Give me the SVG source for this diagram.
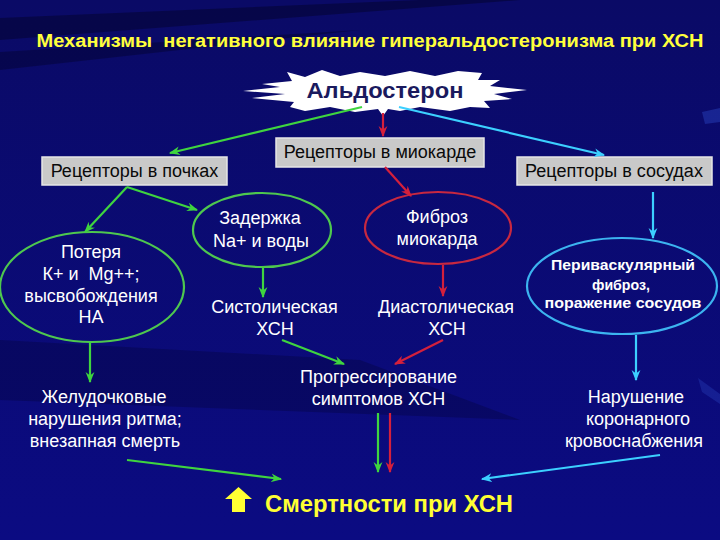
<svg xmlns="http://www.w3.org/2000/svg" width="720" height="540" viewBox="0 0 720 540">
<defs>
<style>
.t{font-family:"Liberation Sans",Arial,sans-serif;fill:#ffffff;font-size:18px;text-anchor:middle}
.p{font-family:"Liberation Sans",Arial,sans-serif;fill:#ffffff;font-size:14px;font-weight:bold;text-anchor:middle}
.b{font-family:"Liberation Sans",Arial,sans-serif;fill:#0a0a0a;font-size:18px;text-anchor:middle}
.pre{white-space:pre}
.box{fill:#c9c9c9;stroke:#e6e6e6;stroke-width:1.5}
.g{stroke:#3fd43f;stroke-width:2.2;fill:none}
.r{stroke:#d4203c;stroke-width:2.2;fill:none}
.c{stroke:#3cd0ff;stroke-width:2.2;fill:none}
.eg{fill:none;stroke:#4ec84e;stroke-width:2.2}
.er{fill:none;stroke:#c82840;stroke-width:2.2}
.ec{fill:none;stroke:#3cb4f0;stroke-width:2.2}
</style>
<linearGradient id="bg" x1="0" y1="0" x2="0" y2="1">
<stop offset="0" stop-color="#0a0a66"/>
<stop offset="1" stop-color="#0b0b82"/>
</linearGradient>
<marker id="ag" viewBox="0 0 10 10" refX="9" refY="5" markerWidth="5" markerHeight="5" orient="auto" markerUnits="strokeWidth"><path d="M0,1 L10,5 L0,9 L3,5 Z" fill="#3fd43f"/></marker>
<marker id="ar" viewBox="0 0 10 10" refX="9" refY="5" markerWidth="5" markerHeight="5" orient="auto" markerUnits="strokeWidth"><path d="M0,1 L10,5 L0,9 L3,5 Z" fill="#d4203c"/></marker>
<marker id="ac" viewBox="0 0 10 10" refX="9" refY="5" markerWidth="5" markerHeight="5" orient="auto" markerUnits="strokeWidth"><path d="M0,1 L10,5 L0,9 L3,5 Z" fill="#3cd0ff"/></marker>
</defs>
<g id="background">
<rect width="720" height="540" fill="url(#bg)"/>
<path d="M0,18 L420,0 L520,0 L0,40 Z" fill="#000010" opacity="0.35"/>
<path d="M0,52 L360,30 L0,70 Z" fill="#000010" opacity="0.3"/>
<path d="M0,340 L360,360 L520,420 L0,400 Z" fill="#000020" opacity="0.25"/>
<path d="M702,112 L720,108 L720,122 L705,124 Z" fill="#2a44c0" opacity="0.45"/>
<path d="M698,378 L720,394 L720,404 L702,392 Z" fill="#2a44c0" opacity="0.35"/>
</g>
<g id="title">
<text class="pre" x="370" y="47" font-family="'Liberation Sans',Arial,sans-serif" font-size="18" font-weight="bold" fill="#ffff3c" text-anchor="middle" textLength="667" lengthAdjust="spacingAndGlyphs">Механизмы  негативного влияние гиперальдостеронизма при ХСН</text>
</g>
<g id="aldosterone">
<path d="M287,72 L305,77 L322,70 L340,76 L360,72 L385,76 L410,71 L435,76 L458,71 L482,73 L478,80 L500,80 L490,86 L527,90 L494,94 L512,99 L484,101 L490,108 L470,107 L450,111 L420,107 L400,111 L388,109 L383,116 L378,109 L355,112 L330,107 L305,111 L290,107 L294,102 L252,98 L285,94 L243,91 L280,87 L262,84 L292,81 Z" fill="#ffffff"/>
<text x="385" y="98" font-family="'Liberation Sans',Arial,sans-serif" font-size="22" font-weight="bold" fill="#1a1a5e" text-anchor="middle" textLength="157" lengthAdjust="spacingAndGlyphs">Альдостерон</text>
</g>
<g id="rec-kidney">
<rect class="box" x="42" y="157" width="185" height="28"/>
<text class="b" x="134.5" y="177">Рецепторы в почках</text>
</g>
<g id="rec-myocard">
<rect class="box" x="276" y="138" width="208" height="29"/>
<text class="b" x="380" y="158">Рецепторы в миокарде</text>
</g>
<g id="rec-vessels">
<rect class="box" x="517" y="157" width="195" height="28"/>
<text class="b" x="614" y="177">Рецепторы в сосудах</text>
</g>
<g id="loss">
<ellipse class="eg" cx="92" cy="287" rx="92" ry="55"/>
<text class="t" x="91" y="258">Потеря</text>
<text class="t pre" x="91" y="280">К+ и  Mg++;</text>
<text class="t" x="91" y="302">высвобождения</text>
<text class="t" x="91" y="323">НА</text>
</g>
<g id="retention">
<ellipse class="eg" cx="262" cy="230" rx="69" ry="37"/>
<text class="t" x="260" y="224">Задержка</text>
<text class="t" x="261" y="247">Na+ и воды</text>
</g>
<g id="fibrosis">
<ellipse class="er" cx="438" cy="228" rx="73" ry="36"/>
<text class="t" x="437" y="223">Фиброз</text>
<text class="t" x="437" y="245">миокарда</text>
</g>
<g id="perivascular">
<ellipse class="ec" cx="622" cy="286" rx="95" ry="48"/>
<text class="p" x="623" y="270" textLength="144" lengthAdjust="spacingAndGlyphs">Периваскулярный</text>
<text class="p" x="621" y="290" textLength="58" lengthAdjust="spacingAndGlyphs">фиброз,</text>
<text class="p" x="623" y="308" textLength="157" lengthAdjust="spacingAndGlyphs">поражение сосудов</text>
</g>
<g id="systolic">
<text class="t" x="274.5" y="313">Систолическая</text>
<text class="t" x="275" y="335">ХСН</text>
</g>
<g id="diastolic">
<text class="t" x="446" y="313">Диастолическая</text>
<text class="t" x="447" y="335">ХСН</text>
</g>
<g id="progression">
<text class="t" x="378.5" y="383">Прогрессирование</text>
<text class="t" x="378.5" y="405">симптомов ХСН</text>
</g>
<g id="arrhythmia">
<text class="t" x="104" y="403">Желудочковые</text>
<text class="t" x="105" y="425">нарушения ритма;</text>
<text class="t" x="105" y="447">внезапная смерть</text>
</g>
<g id="coronary">
<text class="t" x="636" y="403">Нарушение</text>
<text class="t" x="638" y="425">коронарного</text>
<text class="t" x="634" y="447">кровоснабжения</text>
</g>
<g id="mortality">
<path d="M238.5,487 L252,499 L245,499 L245,512 L232,512 L232,499 L225,499 Z" fill="#ffff33"/>
<text x="265" y="512" font-family="'Liberation Sans',Arial,sans-serif" font-size="24" font-weight="bold" fill="#ffff33" textLength="248" lengthAdjust="spacingAndGlyphs">Смертности при ХСН</text>
</g>
<g id="connectors">
<line class="g" x1="362" y1="107" x2="170" y2="153" marker-end="url(#ag)"/>
<line class="r" x1="383" y1="113" x2="383" y2="136" marker-end="url(#ar)"/>
<line class="c" x1="399" y1="107" x2="604" y2="155" marker-end="url(#ac)"/>
<line class="g" x1="127" y1="187" x2="85" y2="232" marker-end="url(#ag)"/>
<line class="g" x1="127" y1="187" x2="197" y2="210" marker-end="url(#ag)"/>
<line class="r" x1="385" y1="167" x2="411" y2="196" marker-end="url(#ar)"/>
<line class="c" x1="653" y1="192" x2="653" y2="238" marker-end="url(#ac)"/>
<line class="g" x1="263" y1="267" x2="263" y2="297" marker-end="url(#ag)"/>
<line class="r" x1="443" y1="265" x2="443" y2="296" marker-end="url(#ar)"/>
<line class="g" x1="90" y1="342" x2="90" y2="382" marker-end="url(#ag)"/>
<line class="g" x1="282" y1="340" x2="344" y2="364" marker-end="url(#ag)"/>
<line class="r" x1="443" y1="340" x2="395" y2="364" marker-end="url(#ar)"/>
<line class="c" x1="636" y1="335" x2="636" y2="380" marker-end="url(#ac)"/>
<line class="g" x1="378" y1="413" x2="378" y2="472" marker-end="url(#ag)"/>
<line class="r" x1="390" y1="413" x2="390" y2="472" marker-end="url(#ar)"/>
<line class="g" x1="127" y1="460" x2="281" y2="479" marker-end="url(#ag)"/>
<line class="c" x1="660" y1="455" x2="482" y2="479" marker-end="url(#ac)"/>
</g>
</svg>
